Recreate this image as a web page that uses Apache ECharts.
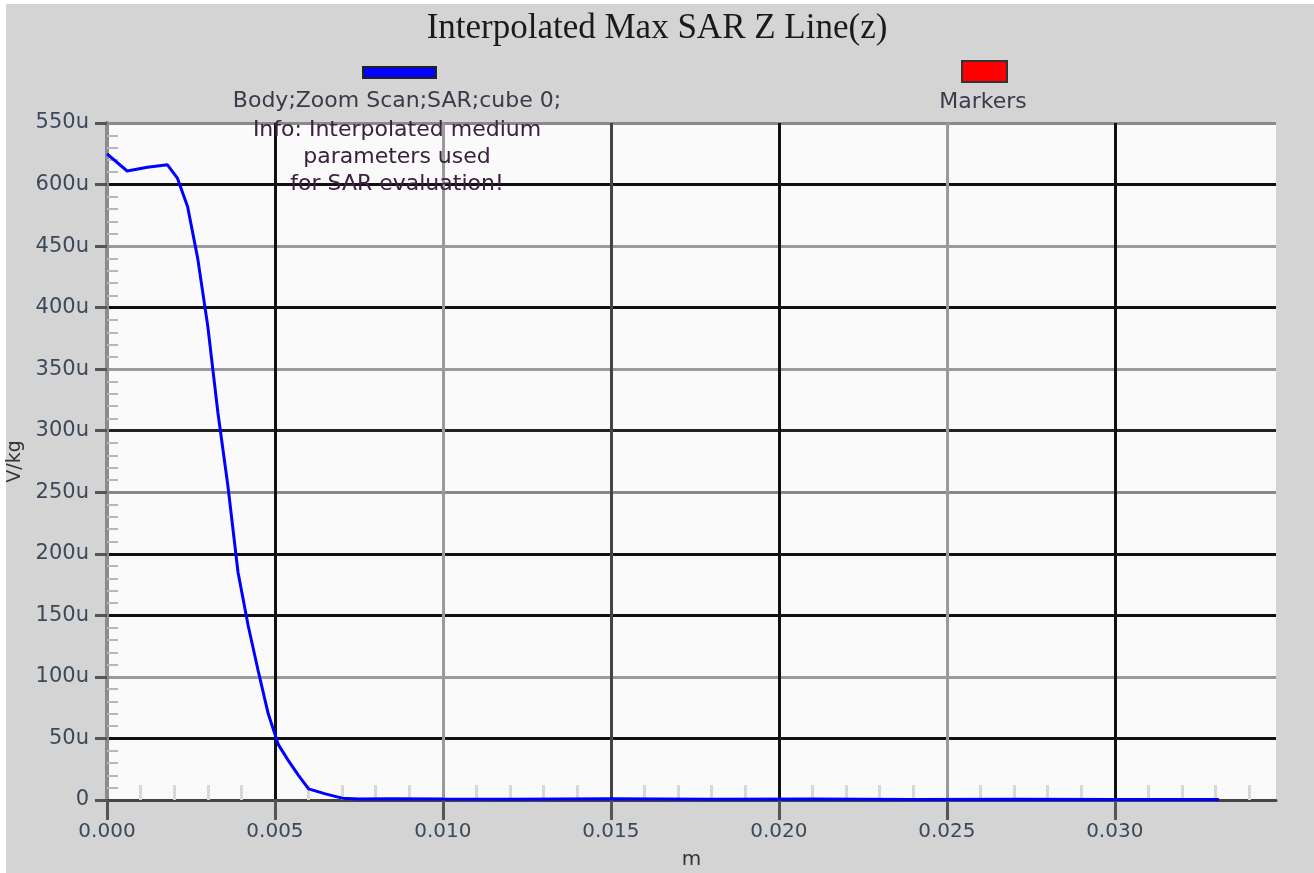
<!DOCTYPE html>
<html>
<head>
<meta charset="utf-8">
<title>Interpolated Max SAR Z Line(z)</title>
<script src="https://cdn.jsdelivr.net/npm/echarts@6/dist/echarts.min.js"></script>
<style>
  html, body { margin: 0; padding: 0; background: #fff; }
  #chart { width: 1314px; height: 873px; }
</style>
</head>
<body>
<div id="chart"></div>
<script>
// position along z (m)
const zPos = [0, 0.0006, 0.0012, 0.0018, 0.0021, 0.0024, 0.0027, 0.003, 0.0033, 0.0036,
  0.0039, 0.0042, 0.0045, 0.0048, 0.0051, 0.0054, 0.0057, 0.006, 0.0065, 0.007,
  0.0075, 0.0085, 0.01, 0.012, 0.015, 0.018, 0.021, 0.024, 0.027, 0.03, 0.0331]
// SAR in u (1e-6) V/kg
const sarU = [525, 511, 514, 516, 505, 482, 440, 385, 315, 255,
  185, 142, 105, 70, 45, 32, 20, 9, 5, 1.5,
  0.8, 1, 0.8, 0.6, 1, 0.6, 0.8, 0.5, 0.7, 0.5, 0.4]
// x ticks (m) and y tick labels as printed on the picture (0 .. 550u)
const xTicks = [0, 0.005, 0.01, 0.015, 0.02, 0.025, 0.03]
const yTickLabels = ['0', '50u', '100u', '150u', '200u', '250u', '300u', '350u', '400u', '450u', '600u', '550u']
const infoLines = ['Info: Interpolated medium', 'parameters used', 'for SAR evaluation!']

const font = 'DejaVu Sans'
const chart = echarts.init(document.getElementById('chart'))

// grid line colours, one per tick (the picture mixes black and grey lines)
const yLineColors = ['#444', '#111', '#9a9a9a', '#111', '#111', '#888', '#222', '#9a9a9a', '#111', '#9a9a9a', '#111', '#8a8a8a']
const xLineColors = ['#8a8a8a', '#111', '#9a9a9a', '#444', '#111', '#9a9a9a', '#111', '#555']

const textStyle = (fill) => ({ fontFamily: font, fontSize: 22, fill: fill, align: 'center', verticalAlign: 'middle' })

const option = {
  backgroundColor: '#fff',
  animation: false,
  title: {
    text: 'Interpolated Max SAR Z Line(z)',
    left: 'center',
    top: 6,
    textStyle: { fontFamily: 'Liberation Serif', fontSize: 35, fontWeight: 'normal', color: '#1a1a1a' }
  },
  grid: {
    left: 107, right: 38, top: 123, bottom: 73,
    outerBoundsMode: 'none',
    containLabel: false,
    show: true, backgroundColor: '#fafafa', borderWidth: 0
  },
  xAxis: {
    type: 'value',
    min: 0,
    max: 0.0348,
    interval: 0.005,
    name: 'm',
    nameLocation: 'middle',
    nameGap: 50,
    nameTextStyle: { fontFamily: font, fontSize: 20, color: '#333' },
    axisLine: { onZero: false, lineStyle: { color: '#444', width: 3 } },
    axisTick: { length: 20, customValues: xTicks, lineStyle: { color: '#555', width: 3 } },
    minorTick: { show: true, splitNumber: 5, length: -15, lineStyle: { color: '#d8d8d8', width: 3 } },
    axisLabel: {
      fontFamily: font, fontSize: 20, color: '#3a4a5a', margin: 22,
      customValues: xTicks,
      formatter: v => v.toFixed(3)
    },
    splitLine: { show: true, lineStyle: { color: xLineColors, width: 3 } }
  },
  yAxis: {
    type: 'value',
    min: 0,
    max: 550,
    interval: 50,
    name: 'V/kg',
    nameLocation: 'middle',
    nameGap: 80,
    nameTextStyle: { fontFamily: font, fontSize: 19, color: '#333' },
    axisLine: { show: true, lineStyle: { color: '#8c8c8c', width: 4 } },
    axisTick: { length: 12, lineStyle: { color: '#555', width: 3 } },
    minorTick: { show: true, splitNumber: 5, length: -11, lineStyle: { color: '#b8b8b8', width: 2 } },
    axisLabel: {
      fontFamily: font, fontSize: 21, color: '#3a4a5a', margin: 18,
      formatter: (v) => yTickLabels[Math.round(v / 50)]
    },
    splitLine: { show: true, lineStyle: { color: yLineColors, width: 3 } }
  },
  graphic: [
    // grey panel, small white margin on the left and top
    { type: 'rect', z: -10, shape: { x: 6, y: 4, width: 1308, height: 869 }, style: { fill: '#d4d4d4' } },
    // legend: series
    { type: 'rect', z: 100, shape: { x: 363, y: 67, width: 73, height: 11 }, style: { fill: '#0000ff', stroke: '#222', lineWidth: 2 } },
    { type: 'text', z: 100, x: 397, y: 101, style: textStyle('#3a3a4a') },
    // legend: markers
    { type: 'rect', z: 100, shape: { x: 962, y: 61, width: 45, height: 21 }, style: { fill: '#ff0000', stroke: '#333', lineWidth: 2 } },
    { type: 'text', z: 100, x: 983, y: 102, style: textStyle('#3a3a4a') },
    // info note
    { type: 'text', z: 100, x: 397, y: 130, style: textStyle('#3c2040') },
    { type: 'text', z: 100, x: 397, y: 157, style: textStyle('#3c2040') },
    { type: 'text', z: 100, x: 397, y: 184, style: textStyle('#3c2040') }
  ],
  series: [
    {
      name: 'Body;Zoom Scan;SAR;cube 0;',
      type: 'line',
      showSymbol: false,
      lineStyle: { color: '#0000ff', width: 3 },
      data: zPos.map((z, i) => [z, sarU[i]])
    }
  ]
}

// texts for the hand drawn legend and note
const g = option.graphic
g[2].style.text = 'Body;Zoom Scan;SAR;cube 0;'
g[4].style.text = 'Markers'
g[5].style.text = infoLines[0]
g[6].style.text = infoLines[1]
g[7].style.text = infoLines[2]

chart.setOption(option)
</script>
</body>
</html>
